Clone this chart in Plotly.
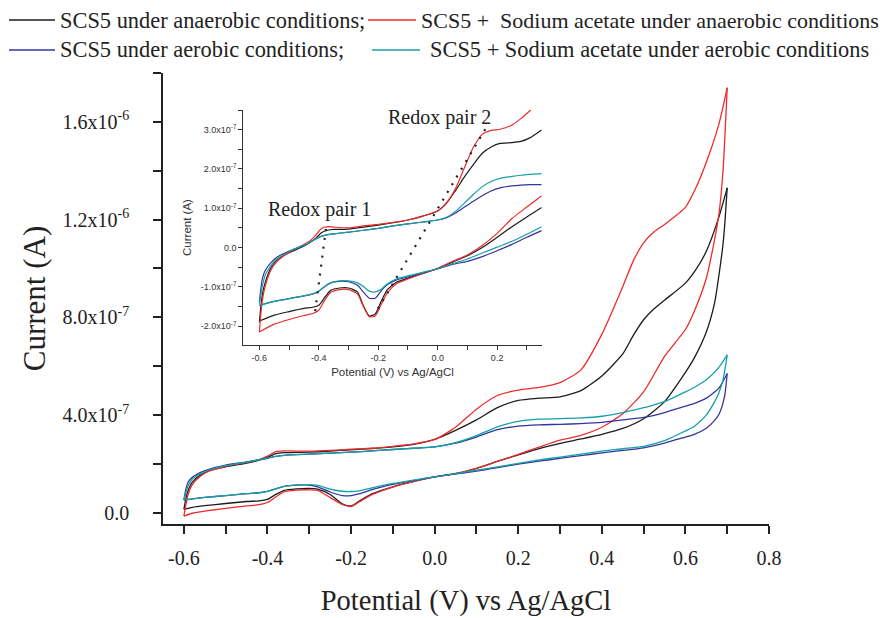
import plotly.graph_objects as go

# ---------------- data (current in units of 1e-7 A) ----------------
names = ["SCS5 under anaerobic conditions;",
         "SCS5 +  Sodium acetate under anaerobic conditions",
         "SCS5 under aerobic conditions;",
         "SCS5 + Sodium acetate under aerobic conditions"]
colors = ["#1c1c1c", "#ee2b2b", "#34349e", "#16a0a4"]

# main plot, forward scan (-0.6 -> 0.7 V)
main_fwd_x = [-0.6, -0.595, -0.59, -0.58, -0.56, -0.54, -0.5, -0.45, -0.42, -0.4, -0.38, -0.36,
              -0.3, -0.25, -0.2, -0.15, -0.1, -0.05, 0.0, 0.05, 0.1, 0.15, 0.2, 0.25, 0.3, 0.35,
              0.4, 0.45, 0.475, 0.5, 0.525, 0.55, 0.6, 0.625, 0.65, 0.68, 0.7]
black_main_fwd = [0.14, 0.6, 0.9, 1.25, 1.55, 1.72, 1.88, 2.03, 2.15, 2.27, 2.42, 2.46,
                  2.48, 2.52, 2.58, 2.63, 2.70, 2.80, 3.0, 3.37, 3.80, 4.30, 4.60, 4.69, 4.74, 5.0,
                  5.6, 6.5, 7.25, 7.9, 8.35, 8.7, 9.4, 9.95, 10.7, 12.1, 13.3]
red_main_fwd = [-0.14, 0.35, 0.75, 1.15, 1.5, 1.7, 1.9, 2.06, 2.18, 2.32, 2.5, 2.53,
                2.52, 2.55, 2.6, 2.64, 2.72, 2.82, 3.0, 3.5, 4.24, 4.80, 5.02, 5.13, 5.33, 5.85,
                7.3, 9.25, 10.3, 11.05, 11.5, 11.8, 12.5, 13.3, 14.35, 15.9, 17.4]
blue_main_fwd = [0.52, 1.0, 1.25, 1.45, 1.65, 1.78, 1.95, 2.08, 2.17, 2.23, 2.31, 2.35,
                 2.40, 2.44, 2.48, 2.53, 2.59, 2.64, 2.70, 2.85, 3.10, 3.40, 3.55, 3.60, 3.62, 3.65,
                 3.70, 3.80, 3.85, 3.90, 3.99, 4.10, 4.36, 4.50, 4.69, 5.10, 5.70]
cyan_main_fwd = [0.52, 0.85, 1.1, 1.38, 1.6, 1.75, 1.93, 2.07, 2.17, 2.23, 2.31, 2.35,
                 2.40, 2.44, 2.48, 2.53, 2.59, 2.64, 2.70, 2.87, 3.16, 3.52, 3.74, 3.83, 3.85, 3.88,
                 3.95, 4.10, 4.20, 4.30, 4.42, 4.55, 4.95, 5.17, 5.44, 5.95, 6.46]

# main plot, reverse scan (0.7 -> -0.6 V)
main_rev_x = [0.7, 0.695, 0.69, 0.68, 0.67, 0.65, 0.62, 0.6, 0.55, 0.5, 0.45, 0.4, 0.35, 0.3,
              0.25, 0.2, 0.15, 0.1, 0.05, 0.0, -0.05, -0.1, -0.15, -0.18, -0.2, -0.22, -0.25,
              -0.28, -0.3, -0.33, -0.36, -0.38, -0.4, -0.42, -0.45, -0.5, -0.55, -0.58, -0.6]
black_main_rev = [13.3, 12.0, 11.0, 9.7, 8.6, 7.4, 6.3, 5.75, 4.55, 3.85, 3.45, 3.21, 3.02, 2.84,
                  2.63, 2.37, 2.10, 1.82, 1.60, 1.47, 1.28, 1.06, 0.77, 0.48, 0.28, 0.36, 0.75,
                  0.97, 1.0, 0.98, 0.92, 0.75, 0.55, 0.49, 0.46, 0.38, 0.29, 0.22, 0.14]
red_main_rev = [17.4, 15.6, 14.0, 12.2, 11.2, 9.6, 8.2, 7.5, 6.4, 4.95, 4.05, 3.5, 3.17, 2.97,
                2.69, 2.39, 2.10, 1.82, 1.61, 1.47, 1.28, 1.05, 0.74, 0.45, 0.26, 0.33, 0.62,
                0.92, 0.94, 0.93, 0.86, 0.65, 0.42, 0.33, 0.28, 0.18, 0.07, -0.02, -0.14]
blue_main_rev = [5.70, 4.9, 4.5, 4.02, 3.78, 3.46, 3.2, 3.10, 2.85, 2.66, 2.55, 2.45, 2.34, 2.23,
                 2.11, 1.99, 1.85, 1.70, 1.59, 1.47, 1.32, 1.16, 0.95, 0.78, 0.70, 0.70, 0.85,
                 1.06, 1.13, 1.13, 1.08, 0.98, 0.88, 0.82, 0.78, 0.70, 0.63, 0.57, 0.52]
cyan_main_rev = [6.46, 5.9, 5.44, 4.9, 4.55, 4.0, 3.52, 3.35, 2.95, 2.72, 2.62, 2.52, 2.40, 2.28,
                 2.16, 2.02, 1.88, 1.74, 1.60, 1.47, 1.34, 1.20, 1.02, 0.90, 0.87, 0.88, 0.97,
                 1.12, 1.15, 1.14, 1.08, 0.98, 0.88, 0.82, 0.78, 0.70, 0.63, 0.57, 0.52]

# inset, forward scan
inset_fwd_x = [-0.6, -0.595, -0.59, -0.58, -0.56, -0.54, -0.5, -0.46, -0.43, -0.41, -0.39, -0.37,
               -0.35, -0.3, -0.25, -0.2, -0.15, -0.1, -0.05, 0.0, 0.03, 0.06, 0.09, 0.12, 0.15,
               0.18, 0.21, 0.25, 0.28, 0.31, 0.35]
black_inset_fwd = [-1.9, -1.5, -1.2, -0.88, -0.5, -0.32, -0.13, 0.0, 0.13, 0.24, 0.38, 0.44,
                   0.46, 0.47, 0.52, 0.57, 0.63, 0.70, 0.80, 0.93, 1.13, 1.45, 1.80, 2.11, 2.40,
                   2.56, 2.65, 2.67, 2.70, 2.79, 2.99]
red_inset_fwd = [-2.15, -1.7, -1.35, -0.98, -0.56, -0.35, -0.12, 0.04, 0.17, 0.32, 0.49, 0.53,
                 0.52, 0.50, 0.55, 0.59, 0.64, 0.70, 0.80, 0.93, 1.14, 1.50, 2.03, 2.55, 2.88,
                 2.98, 3.01, 3.12, 3.28, 3.48, 3.75]
blue_inset_fwd = [-1.39, -1.05, -0.80, -0.58, -0.38, -0.24, -0.09, 0.03, 0.13, 0.22, 0.29, 0.33,
                  0.35, 0.39, 0.44, 0.49, 0.55, 0.60, 0.65, 0.70, 0.76, 0.88, 1.03, 1.18, 1.32,
                  1.44, 1.52, 1.57, 1.59, 1.60, 1.60]
cyan_inset_fwd = [-1.43, -1.2, -0.98, -0.70, -0.45, -0.28, -0.10, 0.03, 0.13, 0.22, 0.29, 0.33,
                  0.35, 0.39, 0.44, 0.49, 0.55, 0.60, 0.65, 0.70, 0.77, 0.92, 1.13, 1.35, 1.55,
                  1.68, 1.76, 1.81, 1.84, 1.86, 1.88]

# inset, reverse scan
inset_rev_x = [0.35, 0.3, 0.25, 0.2, 0.15, 0.1, 0.05, 0.0, -0.05, -0.1, -0.14, -0.17, -0.19,
               -0.21, -0.23, -0.25, -0.27, -0.3, -0.33, -0.36, -0.38, -0.4, -0.42, -0.45, -0.5,
               -0.55, -0.6]
black_inset_rev = [1.02, 0.78, 0.53, 0.26, 0.0, -0.21, -0.37, -0.54, -0.66, -0.78, -0.89, -1.08,
                   -1.37, -1.69, -1.74, -1.48, -1.13, -1.03, -1.03, -1.09, -1.27, -1.47, -1.52,
                   -1.55, -1.63, -1.72, -1.87]
red_inset_rev = [1.32, 1.03, 0.74, 0.36, 0.05, -0.19, -0.35, -0.53, -0.66, -0.80, -0.93, -1.16,
                 -1.45, -1.74, -1.76, -1.50, -1.18, -1.07, -1.07, -1.14, -1.34, -1.59, -1.68,
                 -1.73, -1.83, -1.95, -2.15]
blue_inset_rev = [0.43, 0.26, 0.08, -0.08, -0.23, -0.35, -0.43, -0.54, -0.64, -0.75, -0.83, -0.95,
                  -1.10, -1.29, -1.29, -1.13, -0.96, -0.87, -0.86, -0.90, -0.99, -1.11, -1.18,
                  -1.23, -1.30, -1.37, -1.47]
cyan_inset_rev = [0.53, 0.34, 0.16, 0.01, -0.14, -0.29, -0.41, -0.54, -0.63, -0.72, -0.80, -0.93,
                  -1.06, -1.13, -1.11, -0.99, -0.90, -0.85, -0.85, -0.90, -0.99, -1.11, -1.18,
                  -1.23, -1.30, -1.37, -1.47]

# redox-pair guide lines (inset): peak positions (V, 1e-7 A)
pair1_x = [-0.376, -0.4125]
pair1_y = [0.475, -1.64]
pair2_x = [0.16, -0.21]
pair2_y = [3.01, -1.67]

# tick labels
main_x_ticks = [-0.6, -0.4, -0.2, 0.0, 0.2, 0.4, 0.6, 0.8]
main_x_text = ["-0.6", "-0.4", "-0.2", "0.0", "0.2", "0.4", "0.6", "0.8"]
main_y_ticks = [0, 4, 8, 12, 16]
main_y_text = ["0.0", "4.0x10<sup>-7</sup>", "8.0x10<sup>-7</sup>",
               "1.2x10<sup>-6</sup>", "1.6x10<sup>-6</sup>"]
inset_x_ticks = [-0.6, -0.4, -0.2, 0.0, 0.2]
inset_x_text = ["-0.6", "-0.4", "-0.2", "0.0", "0.2"]
inset_y_ticks = [-2.0, -1.0, 0.0, 1.0, 2.0, 3.0]
inset_y_text = ["-2.0x10<sup>-7</sup>", "-1.0x10<sup>-7</sup>", "0.0",
                "1.0x10<sup>-7</sup>", "2.0x10<sup>-7</sup>", "3.0x10<sup>-7</sup>"]

# ---------------- figure ----------------
# the page body has an 8px margin, so the figure is sized to fit inside the window
OFF = 8
W, H = 880, 610
ML, MT = 163 - OFF, 73 - OFF
PW, PH = 606, 451
MR, MB = W - ML - PW, H - MT - PH


def px(xp):  # page pixel x -> paper coordinate
    return (xp - OFF - ML) / PW


def py(yp):  # page pixel y -> paper coordinate
    return (MT + PH - (yp - OFF)) / PH


fig = go.Figure()
main_fwd = [black_main_fwd, red_main_fwd, blue_main_fwd, cyan_main_fwd]
main_rev = [black_main_rev, red_main_rev, blue_main_rev, cyan_main_rev]
inset_fwd = [black_inset_fwd, red_inset_fwd, blue_inset_fwd, cyan_inset_fwd]
inset_rev = [black_inset_rev, red_inset_rev, blue_inset_rev, cyan_inset_rev]

for i in range(4):
    for xs, ys in ((main_fwd_x, main_fwd[i]), (main_rev_x, main_rev[i])):
        fig.add_trace(go.Scatter(x=xs, y=ys, mode="lines", name=names[i], legendgroup=str(i),
                                 showlegend=False,
                                 line=dict(color=colors[i], width=1.3, shape="spline", smoothing=0.6)))
for i in range(4):
    for xs, ys in ((inset_fwd_x, inset_fwd[i]), (inset_rev_x, inset_rev[i])):
        fig.add_trace(go.Scatter(x=xs, y=ys, mode="lines", name=names[i], legendgroup=str(i),
                                 showlegend=False, xaxis="x2", yaxis="y2",
                                 line=dict(color=colors[i], width=1.2, shape="spline", smoothing=0.6)))
for pxs, pys in ((pair1_x, pair1_y), (pair2_x, pair2_y)):
    fig.add_trace(go.Scatter(x=pxs, y=pys, mode="lines", showlegend=False, xaxis="x2", yaxis="y2",
                             line=dict(color="#222222", width=2.2, dash="2px,7px")))

serif = "Liberation Serif, Times New Roman, serif"
sans = "Liberation Sans, Arial, sans-serif"

# legend drawn as line samples + labels (two rows, two columns), page pixel positions
legend_pos = [(9, 55, 58, 20), (368, 416, 419, 20), (9, 55, 58, 50), (372, 420, 428, 50)]
legend_size = [22.4, 22.0, 22.4, 22.4]
shapes = []
annotations = []
for i, (x0, x1, xt, yr) in enumerate(legend_pos):
    shapes.append(dict(type="line", xref="paper", yref="paper", x0=px(x0), x1=px(x1),
                       y0=py(yr), y1=py(yr), line=dict(color=colors[i], width=1.5)))
    annotations.append(dict(text=names[i], xref="paper", yref="paper", x=px(xt), y=py(yr),
                            xanchor="left", yanchor="middle", showarrow=False,
                            font=dict(family=serif, size=legend_size[i], color="#222")))

annotations += [
    dict(text="Redox pair 2", x=0.005, y=3.30, xref="x2", yref="y2", showarrow=False,
         font=dict(family=serif, size=20, color="#222")),
    dict(text="Redox pair 1", x=-0.397, y=0.98, xref="x2", yref="y2", showarrow=False,
         font=dict(family=serif, size=20, color="#222")),
]

fig.update_layout(
    width=W, height=H,
    margin=dict(l=ML, r=MR, t=MT, b=MB),
    paper_bgcolor="white", plot_bgcolor="white",
    showlegend=False,
    xaxis=dict(range=[-0.65, 0.8], tickvals=main_x_ticks, ticktext=main_x_text,
               showline=True, linecolor="#222", linewidth=1.6, ticks="outside", ticklen=8,
               tickwidth=1.5, tickcolor="#222", showgrid=False, zeroline=False,
               minor=dict(dtick=0.1, tick0=-0.6, ticks="outside", ticklen=8, tickwidth=1.5,
                          tickcolor="#222", showgrid=False),
               tickfont=dict(family=serif, size=20, color="#222"), ticklabelstandoff=7,
               automargin=False,
               title=dict(text="Potential (V) vs Ag/AgCl", font=dict(family=serif, size=28.5, color="#222"),
                          standoff=22)),
    yaxis=dict(range=[-0.46, 18.0], tickvals=main_y_ticks, ticktext=main_y_text,
               showline=True, linecolor="#222", linewidth=1.6, ticks="outside", ticklen=8,
               tickwidth=1.5, tickcolor="#222", showgrid=False, zeroline=False,
               minor=dict(dtick=2, tick0=0, ticks="outside", ticklen=8, tickwidth=1.5,
                          tickcolor="#222", showgrid=False),
               tickfont=dict(family=serif, size=20, color="#222"), ticklabelstandoff=20,
               automargin=False,
               title=dict(text="Current (A)", font=dict(family=serif, size=31, color="#222"),
                          standoff=8)),
    xaxis2=dict(domain=[px(243.3), px(541.7)], anchor="y2", range=[-0.654, 0.35],
                tickvals=inset_x_ticks, ticktext=inset_x_text,
                showline=True, linecolor="#333", linewidth=1.2, ticks="outside", ticklen=4,
                tickwidth=1, tickcolor="#333", showgrid=False, zeroline=False,
                minor=dict(dtick=0.1, tick0=-0.6, ticks="outside", ticklen=4, tickwidth=1,
                           tickcolor="#333", showgrid=False),
                tickfont=dict(family=sans, size=9, color="#333"),
                title=dict(text="Potential (V) vs Ag/AgCl", font=dict(family=sans, size=11.5, color="#333"),
                           standoff=6)),
    yaxis2=dict(domain=[py(345), py(110)], anchor="x2", range=[-2.48, 3.5],
                tickvals=inset_y_ticks, ticktext=inset_y_text,
                showline=True, linecolor="#333", linewidth=1.2, ticks="outside", ticklen=4,
                tickwidth=1, tickcolor="#333", showgrid=False, zeroline=False,
                minor=dict(dtick=0.5, tick0=0, ticks="outside", ticklen=4, tickwidth=1,
                           tickcolor="#333", showgrid=False),
                tickfont=dict(family=sans, size=9, color="#333"),
                title=dict(text="Current (A)", font=dict(family=sans, size=11.5, color="#333"),
                           standoff=6)),
    shapes=shapes,
    annotations=annotations,
)

fig.write_html("out.html")
